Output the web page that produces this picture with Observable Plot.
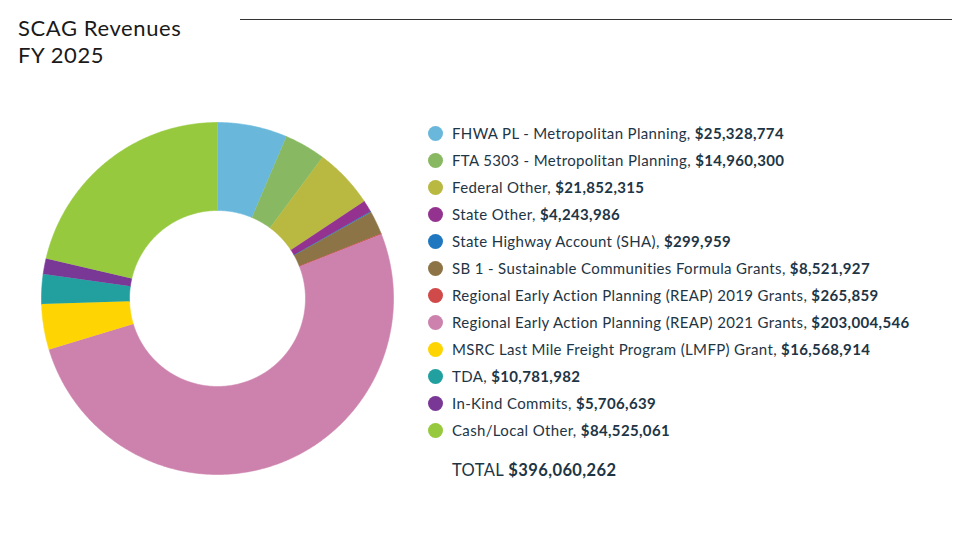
<!DOCTYPE html>
<html>
<head>
<meta charset="utf-8">
<script src="https://cdn.jsdelivr.net/npm/d3@7"></script>
<script src="https://cdn.jsdelivr.net/npm/@observablehq/plot@0.6"></script>
<style>
  html, body { margin: 0; padding: 0; background: #fff; }
  #wrap { position: relative; width: 960px; height: 555px; overflow: hidden; font-family: Lato, "Open Sans", sans-serif; }
  #title { position: absolute; left: 18px; top: 14px; font-size: 22px; letter-spacing: 0.6px; line-height: 27px; color: #1a1a1a; }
  #rule { position: absolute; left: 240px; top: 19px; width: 712px; height: 0; border-top: 1.5px solid #333; }
  #chart { position: absolute; left: 0; top: 0; }
  .row { position: absolute; left: 428px; height: 20px; display: flex; align-items: center; font-size: 15px; letter-spacing: 0.35px; color: #1e3545; white-space: nowrap; }
  .dot { width: 15px; height: 15px; border-radius: 50%; margin-right: 9px; flex: none; }
  .row b { font-weight: 700; }
  .row.total { font-size: 16.5px; letter-spacing: 0.4px; }
</style>
</head>
<body>
<div id="wrap">
  <div id="title">SCAG Revenues<br>FY 2025</div>
  <div id="rule"></div>
  <div id="chart"></div>
</div>
<script>
const categories = [
  "FHWA PL - Metropolitan Planning",
  "FTA 5303 - Metropolitan Planning",
  "Federal Other",
  "State Other",
  "State Highway Account (SHA)",
  "SB 1 - Sustainable Communities Formula Grants",
  "Regional Early Action Planning (REAP) 2019 Grants",
  "Regional Early Action Planning (REAP) 2021 Grants",
  "MSRC Last Mile Freight Program (LMFP) Grant",
  "TDA",
  "In-Kind Commits",
  "Cash/Local Other"
];
const values = [25328774, 14960300, 21852315, 4243986, 299959, 8521927, 265859, 203004546, 16568914, 10781982, 5706639, 84525061];
const colors = ["#69b8dc", "#88b962", "#b9b840", "#93338f", "#1f77c0", "#8d7447", "#d04a4a", "#cd81ad", "#fed502", "#22a0a0", "#7a3896", "#96c93e"];
const totalLabel = "TOTAL";
const totalValue = 396060262;

const fmt = d3.format("$,");
const rInner = 0.5, rOuter = 1;

const pie = d3.pie().sort(null).value(d => d.value)(categories.map((name, i) => ({name, value: values[i]})));
const pts = [];
for (const s of pie) {
  const a0 = s.startAngle, a1 = s.endAngle;
  const n = Math.max(2, Math.ceil((a1 - a0) / 0.01));
  for (let k = 0; k <= n; k++) {
    const a = a0 + (a1 - a0) * k / n;
    pts.push({name: s.data.name, x: rOuter * Math.sin(a), y: rOuter * Math.cos(a)});
  }
  for (let k = n; k >= 0; k--) {
    const a = a0 + (a1 - a0) * k / n;
    pts.push({name: s.data.name, x: rInner * Math.sin(a), y: rInner * Math.cos(a)});
  }
}

const cx = 217, cy = 298, R = 176;
const chart = Plot.plot({
  width: 960,
  height: 555,
  margin: 0,
  x: {domain: [-1, 1], range: [cx - R, cx + R], axis: null},
  y: {domain: [-1, 1], range: [cy + R, cy - R], axis: null},
  color: {type: "ordinal", domain: categories, range: colors},
  marks: [
    Plot.line(pts, {x: "x", y: "y", z: "name", fill: "name", stroke: "name", strokeWidth: 0.6, curve: "linear"})
  ]
});
document.getElementById("chart").appendChild(chart);

const wrap = document.getElementById("wrap");
categories.forEach((name, i) => {
  const row = document.createElement("div");
  row.className = "row";
  row.style.top = (133 + 27 * i - 10) + "px";
  row.innerHTML = `<span class="dot" style="background:${colors[i]}"></span><span>${name}, <b>${fmt(values[i])}</b></span>`;
  wrap.appendChild(row);
});
const tot = document.createElement("div");
tot.className = "row total";
tot.style.top = (470 - 10) + "px";
tot.style.left = "452px";
tot.innerHTML = `<span>${totalLabel} <b>${fmt(totalValue)}</b></span>`;
wrap.appendChild(tot);
</script>
</body>
</html>
